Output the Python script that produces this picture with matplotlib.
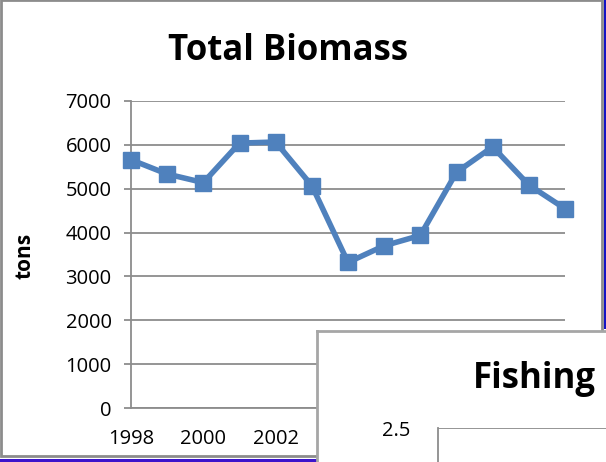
# Total Biomass (con el gráfico "Fishing" superpuesto abajo a la derecha)

import matplotlib.pyplot as plt
from matplotlib.patches import Rectangle

# Datos
years = [1998, 1999, 2000, 2001, 2002, 2003, 2004, 2005, 2006, 2007, 2008, 2009, 2010]
biomass = [5660, 5335, 5140, 6040, 6065, 5070, 3320, 3700, 3935, 5375, 5955, 5085, 4545]
# las demás etiquetas de años quedan tapadas por el gráfico "Fishing"
year_ticks = [1998, 2000, 2002]
biomass_ticks = [0, 1000, 2000, 3000, 4000, 5000, 6000, 7000]
fishing_ticks = [2.5]

W, H = 606, 462
GRAY = '#8c8c8c'
BLUE = '#4f81bd'

plt.rcParams['font.family'] = ['Open Sans', 'DejaVu Sans']

fig = plt.figure(figsize=(W / 100, H / 100), dpi=100)


def box(x0, y0, x1, y1):
    # convierte píxeles (origen arriba a la izquierda) a fracciones de la figura
    return [x0 / W, 1 - y1 / H, (x1 - x0) / W, (y1 - y0) / H]


# marco del gráfico principal y franjas de color
fig.add_artist(Rectangle((1 / W, 1 - 456 / H), 601 / W, 456 / H,
                         transform=fig.transFigure, fc='white', ec=GRAY, lw=2, zorder=-1))
fig.add_artist(Rectangle((0, 0), 318 / W, 3.5 / H, transform=fig.transFigure,
                         fc='#3c14cc', ec='none', zorder=-1))
fig.add_artist(Rectangle((603.5 / W, 1 - 329 / H), 2.5 / W, 329 / H, transform=fig.transFigure,
                         fc='#1414c4', ec='none', zorder=-1))

# gráfico principal
ax = fig.add_axes(box(131, 101, 565, 408))
ax.plot(years, biomass, color=BLUE, linewidth=4, marker='s', markersize=11,
        clip_on=False, zorder=3)
ax.set_xlim(1998, 2010)
ax.set_ylim(0, 7000)
ax.set_xticks(year_ticks)
ax.set_yticks(biomass_ticks)
ax.grid(axis='y', color=GRAY, linewidth=1.3)
ax.set_axisbelow(True)
for side in ['top', 'right']:
    ax.spines[side].set_visible(False)
for side in ['left', 'bottom']:
    ax.spines[side].set_color(GRAY)
    ax.spines[side].set_linewidth(1.3)
ax.tick_params(axis='y', length=5, width=1.3, color=GRAY, labelsize=14.5, pad=9)
ax.tick_params(axis='x', length=0, labelsize=14.5, pad=15)
fig.text(25 / W, 1 - 256 / H, 'tons', fontsize=15, fontweight='bold',
         rotation=90, ha='center', va='center')
fig.text(288 / W, 1 - 51 / H, 'Total Biomass', fontsize=25, fontweight='bold',
         ha='center', va='center')

# gráfico "Fishing" que tapa la esquina
frame = fig.add_axes(box(317, 331, 700, 600))
frame.set_zorder(5)
frame.set_xticks([])
frame.set_yticks([])
for sp in frame.spines.values():
    sp.set_color('#a6a6a6')
    sp.set_linewidth(2)
frame.text(534 / W, 1 - 379 / H, 'Fishing', transform=fig.transFigure,
           fontsize=25, fontweight='bold', ha='center', va='center')

ax2 = fig.add_axes(box(438, 428, 700, 600))
ax2.set_zorder(6)
ax2.patch.set_alpha(0)
ax2.set_ylim(0, 2.5)
ax2.set_yticks(fishing_ticks)
ax2.set_xticks([])
ax2.grid(axis='y', color=GRAY, linewidth=1.3)
for side in ['top', 'right', 'bottom']:
    ax2.spines[side].set_visible(False)
ax2.spines['left'].set_color(GRAY)
ax2.spines['left'].set_linewidth(1.3)
ax2.tick_params(axis='y', length=0, labelsize=14.5, pad=20)

fig.savefig('out.png', dpi=100)
